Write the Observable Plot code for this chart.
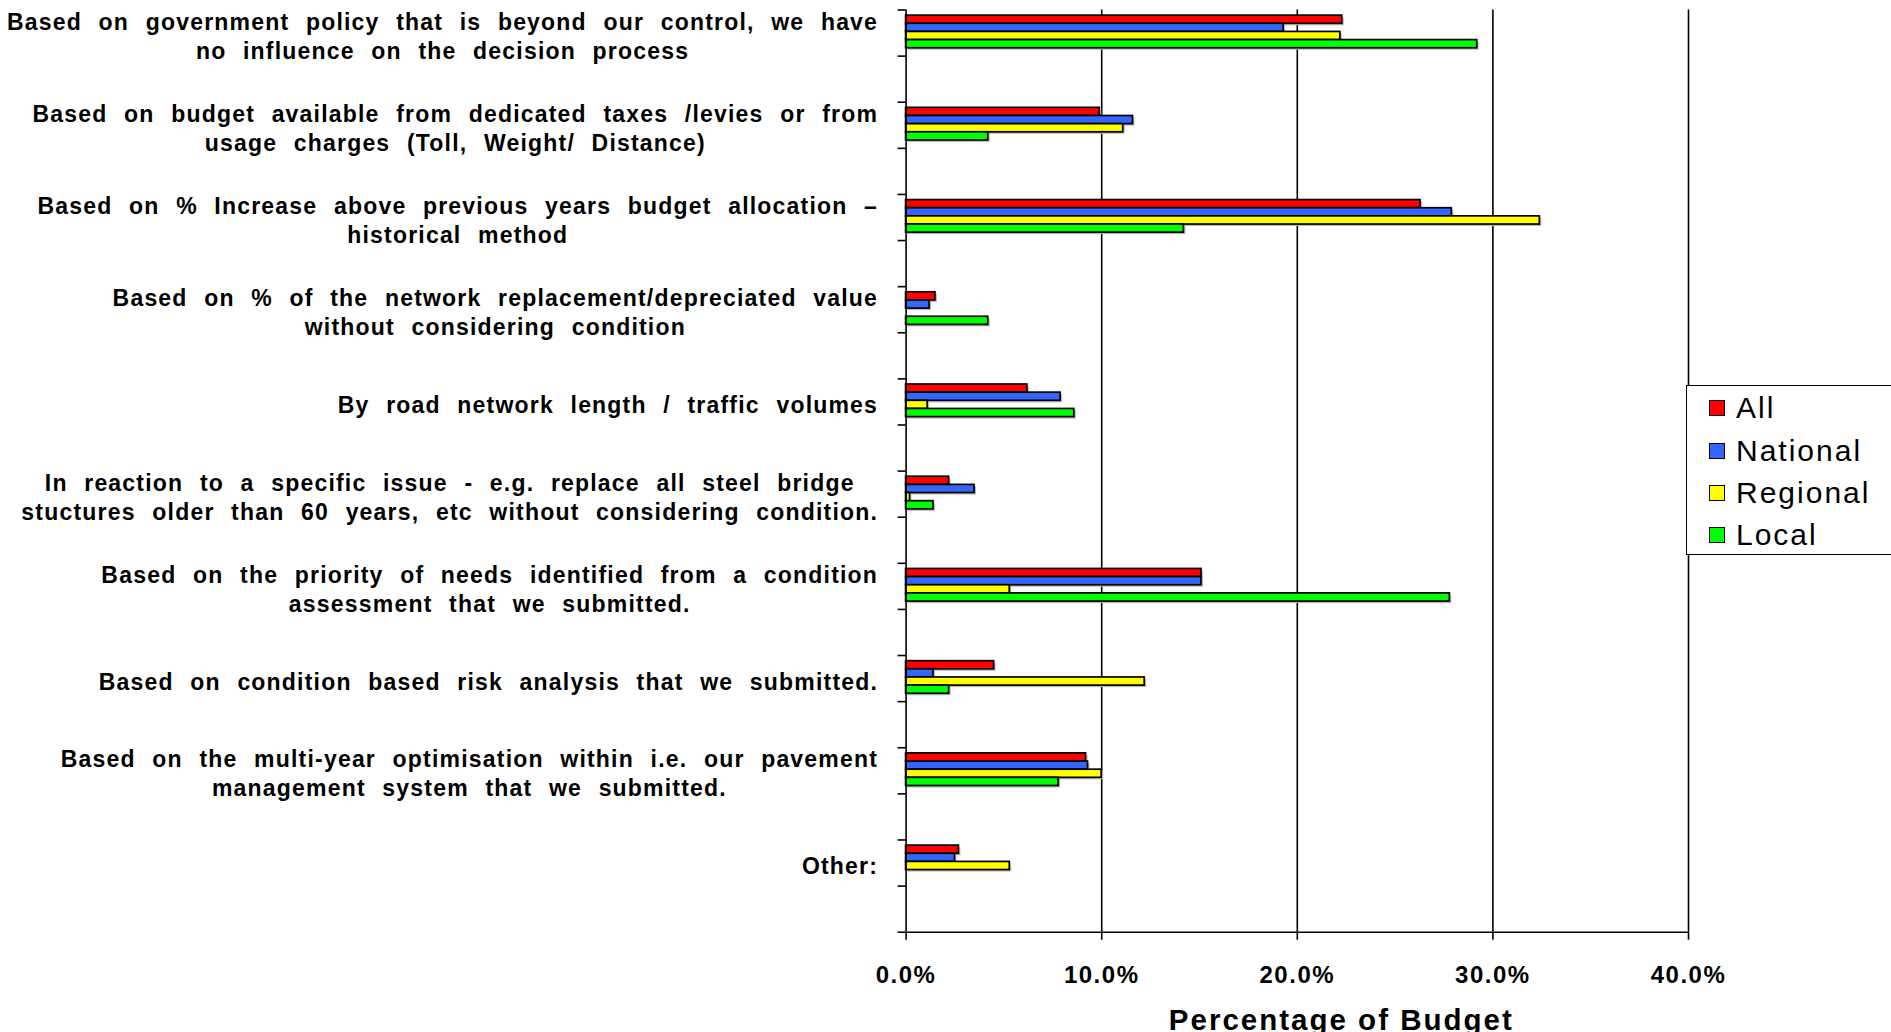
<!DOCTYPE html>
<html>
<head>
<meta charset="utf-8">
<script src="https://cdn.jsdelivr.net/npm/d3@7"></script>
<script src="https://cdn.jsdelivr.net/npm/@observablehq/plot@0.6"></script>
<style>
  html, body { margin: 0; padding: 0; background: #fff; }
  #wrap { position: relative; width: 1891px; height: 1032px; overflow: hidden; background: #fff; }
  #chart svg { display: block; }
  #chart g[aria-label="text"] text { letter-spacing: 1.2px; word-spacing: 9px; }
  #chart svg > g[aria-label="text"]:last-of-type text { letter-spacing: 2px; word-spacing: 0; }
  #chart g[aria-label="x-axis tick label"] text { letter-spacing: 1.5px; }
  #legend { position: absolute; left: 1686px; top: 385px; width: 230px; height: 170px;
            border: 1.5px solid #000; box-sizing: border-box; background: #fff;
            font-family: "Liberation Sans", Arial, sans-serif; font-size: 30px; letter-spacing: 2px; color: #000; }
  #legend .item { position: absolute; left: 22px; height: 34px; display: flex; align-items: center; }
  #legend .sw { width: 14px; height: 14px; border: 1.5px solid #000; margin-right: 11px; }
</style>
</head>
<body>
<div id="wrap">
  <div id="chart"></div>
  <div id="legend"></div>
</div>
<script>
// ---------------- data ----------------
const categories = [
  "Based on government policy that is beyond our control, we have\nno influence on the decision process",
  "Based on budget available from dedicated taxes /levies or from\nusage charges (Toll, Weight/ Distance)",
  "Based on % Increase above previous years budget allocation –\nhistorical method",
  "Based on % of the network replacement/depreciated value\nwithout considering condition",
  "By road network length / traffic volumes",
  "In reaction to a specific issue - e.g. replace all steel bridge\nstuctures older than 60 years, etc without considering condition.",
  "Based on the priority of needs identified from a condition\nassessment that we submitted.",
  "Based on condition based risk analysis that we submitted.",
  "Based on the multi-year optimisation within i.e. our pavement\nmanagement system that we submitted.",
  "Other:"
];
const seriesNames = ["All", "National", "Regional", "Local"];
const seriesColors = ["#ff0000", "#3366ff", "#ffff00", "#00ff00"];
const allValues      = [22.3,  9.9, 26.3, 1.5, 6.2, 2.2, 15.1,  4.5,  9.2, 2.7];
const nationalValues = [19.3, 11.6, 27.9, 1.2, 7.9, 3.5, 15.1,  1.4,  9.3, 2.5];
const regionalValues = [22.2, 11.1, 32.4, 0.0, 1.1, 0.2,  5.3, 12.2, 10.0, 5.3];
const localValues    = [29.2,  4.2, 14.2, 4.2, 8.6, 1.4, 27.8,  2.2,  7.8, 0.0];
const xTicks = [0, 10, 20, 30, 40];
const axisTitle = "Percentage of Budget";

// ---------------- build ----------------
const seriesValues = [allValues, nationalValues, regionalValues, localValues];
const barTop = 0.061, barStep = 0.0884;
const bars = categories.flatMap((c, i) => seriesNames.map((s, k) => ({
  cat: i, series: s, value: seriesValues[k][i],
  y1: i + barTop + k * barStep, y2: i + barTop + (k + 1) * barStep
}))).filter(d => d.value > 0);

const LS = 1.2, WS = 9, FS = 23;
const ctx = document.createElement("canvas").getContext("2d");
ctx.font = `bold ${FS}px "Liberation Sans", Arial, sans-serif`;
const lineW = s => ctx.measureText(s).width + LS * s.length + WS * (s.split(" ").length - 1);

const labelMarks = categories.map((c, i) => {
  const w = d3.max(c.split("\n"), lineW);
  return Plot.text([{label: c, y: i + 0.27}], {
    x: () => 0, y: "y", text: "label",
    textAnchor: "middle", lineAnchor: "middle", lineHeight: 1.26,
    dx: -(28 + w / 2), fontSize: FS, fontWeight: "bold", fill: "#000"
  });
});

const chart = Plot.plot({
  width: 1891,
  height: 1032,
  marginLeft: 905.6,
  marginRight: 203,
  marginTop: 9.5,
  marginBottom: 100.3,
  style: { fontFamily: "'Liberation Sans', Arial, sans-serif", color: "#000", background: "#fff" },
  x: { domain: [0, 40], label: null },
  y: { domain: [0, 10], reverse: true, label: null },
  color: { domain: seriesNames, range: seriesColors },
  marks: [
    Plot.ruleX([10, 20, 30, 40], { stroke: "#000", strokeWidth: 1.6 }),
    Plot.rectX(bars, { x1: () => 0, x2: "value", y1: "y1", y2: "y2", fill: "#b8b8b8", dx: 2, dy: 2 }),
    Plot.rectX(bars, { x1: () => 0, x2: "value", y1: "y1", y2: "y2", fill: "series", stroke: "#000", strokeWidth: 1.7 }),
    Plot.ruleX([0], { stroke: "#000", strokeWidth: 1.6 }),
    Plot.ruleY([10], { stroke: "#000", strokeWidth: 1.6 }),
    Plot.axisY(d3.range(0, 10.01, 0.5), { tickSize: 8, tickFormat: () => "", strokeWidth: 1.6, label: null }),
    Plot.axisX(xTicks, { tickSize: 8, tickPadding: 26, strokeWidth: 1.6,
      tickFormat: d => d.toFixed(1) + "%", fontSize: 24, fontWeight: "bold", label: null }),
    ...labelMarks,
    Plot.text([{t: axisTitle, x: 20}], { x: "x", text: "t", frameAnchor: "bottom", dy: 88, dx: 44,
      fontSize: 29.5, fontWeight: "bold", textAnchor: "middle", lineAnchor: "middle", fill: "#000" })
  ]
});
document.getElementById("chart").appendChild(chart);

// legend
const legend = document.getElementById("legend");
const rowCenters = [23.3, 66, 108.3, 150.7];
seriesNames.forEach((s, k) => {
  const item = document.createElement("div");
  item.className = "item";
  item.style.top = (rowCenters[k] - 17 - 1.5) + "px";
  const sw = document.createElement("div");
  sw.className = "sw";
  sw.style.background = seriesColors[k];
  const t = document.createElement("span");
  t.textContent = s;
  item.appendChild(sw); item.appendChild(t);
  legend.appendChild(item);
});
</script>
</body>
</html>
